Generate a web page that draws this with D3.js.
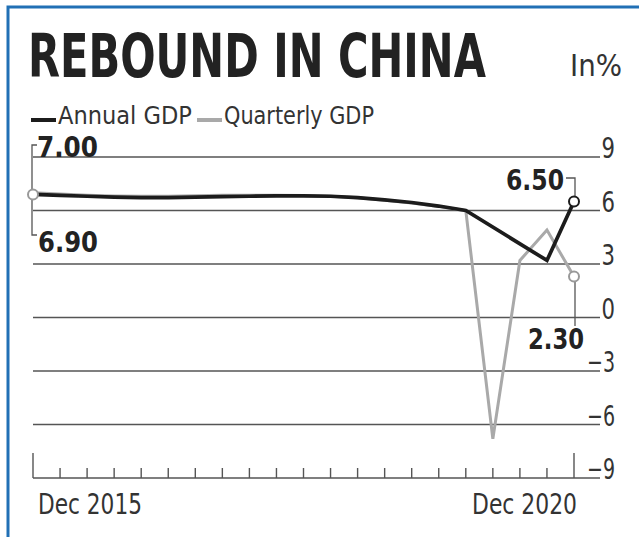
<!DOCTYPE html>
<html>
<head>
<meta charset="utf-8">
<script src="https://cdn.jsdelivr.net/npm/d3@7/dist/d3.min.js"></script>
<style>
body { margin: 0; background: #fff; }
text { font-family: "DejaVu Sans Condensed", "DejaVu Sans", "Liberation Sans Narrow", sans-serif; }
</style>
</head>
<body>
<script>
var quarters = ["Dec 2015", "Mar 2016", "Jun 2016", "Sep 2016", "Dec 2016",
	"Mar 2017", "Jun 2017", "Sep 2017", "Dec 2017", "Mar 2018", "Jun 2018",
	"Sep 2018", "Dec 2018", "Mar 2019", "Jun 2019", "Sep 2019", "Dec 2019",
	"Mar 2020", "Jun 2020", "Sep 2020", "Dec 2020"];

// annual line is drawn straight from Dec 2019 to Sep 2020
var annualQuarters = quarters.filter(function(q) { return q !== "Mar 2020" && q !== "Jun 2020"; });
var annualGDP = [6.9, 6.85, 6.8, 6.75, 6.72, 6.72, 6.75, 6.78, 6.8, 6.82, 6.82,
	6.8, 6.72, 6.6, 6.45, 6.25, 6.0, 3.2, 6.5];
var quarterlyGDP = [7.0, 6.92, 6.86, 6.82, 6.8, 6.8, 6.83, 6.85, 6.86, 6.86, 6.84,
	6.8, 6.72, 6.58, 6.42, 6.22, 6.0, -6.8, 3.2, 4.9, 2.3];

var yTicks = [9, 6, 3, 0, -3, -6, -9];
var xLabels = ["Dec 2015", "Dec 2020"];
var seriesNames = ["Annual GDP", "Quarterly GDP"];

var width = 639, height = 537;
var black = "#1c1c1c", grey = "#a9a9a9", ink = "#333";

var svg = d3.select("body").append("svg").attr("width", width).attr("height", height);

var x = d3.scalePoint().domain(quarters).range([33, 574]);
var y = d3.scaleLinear().domain([-9, 9]).range([478, 157]);

// blue frame (top and left only)
svg.append("path").attr("d", "M8,537V7H639")
	.attr("fill", "none").attr("stroke", "#2170b5").attr("stroke-width", 3);

// squeeze a text horizontally so it is w wide, anchored at (x0, y0)
function fit(sel, x0, y0, w) {
	var len = sel.node().getComputedTextLength();
	return sel.attr("x", 0).attr("y", 0)
		.attr("transform", "translate(" + x0 + "," + y0 + ")scale(" + (w / len) + ",1)");
}

fit(svg.append("text").attr("font-size", 60)
	.attr("font-weight", "bold").attr("fill", "#222").text("REBOUND IN CHINA"), 28, 77, 458);
fit(svg.append("text").attr("font-size", 31)
	.attr("fill", ink).text("In%"), 570, 76, 52);

// legend
var leg = svg.append("g");
leg.append("line").attr("x1", 31).attr("x2", 56).attr("y1", 120).attr("y2", 120)
	.attr("stroke", black).attr("stroke-width", 4);
fit(leg.append("text").attr("font-size", 24)
	.attr("fill", ink).text(seriesNames[0]), 58, 124, 134);
leg.append("line").attr("x1", 197).attr("x2", 222).attr("y1", 120).attr("y2", 120)
	.attr("stroke", grey).attr("stroke-width", 4);
fit(leg.append("text").attr("font-size", 24)
	.attr("fill", ink).text(seriesNames[1]), 224, 124, 150);

// grid + y labels
var grid = svg.append("g");
grid.selectAll("line").data(yTicks).enter().append("line")
	.attr("x1", 33).attr("x2", 600)
	.attr("y1", function(d) { return y(d); }).attr("y2", function(d) { return y(d); })
	.attr("stroke", "#555").attr("stroke-width", 1.4);
grid.selectAll("text").data(yTicks).enter().append("text")
	.attr("text-anchor", "end").attr("font-size", 29).attr("fill", ink)
	.text(function(d) { return d < 0 ? "\u2212" + (-d) : d; })
	.each(function(d) {
		fit(d3.select(this), 615, y(d) + 1, d < 0 ? 28 : 13.5);
	});

// quarter ticks
svg.append("g").selectAll("line").data(quarters).enter().append("line")
	.attr("x1", function(d) { return x(d); }).attr("x2", function(d) { return x(d); })
	.attr("y1", y(-9))
	.attr("y2", function(d) { return xLabels.indexOf(d) >= 0 ? y(-9) - 25 : y(-9) - 10; })
	.attr("stroke", "#555").attr("stroke-width", 1.4);

fit(svg.append("text").attr("font-size", 29)
	.attr("fill", ink).text(xLabels[0]), x(xLabels[0]) + 5, 514, 104);
fit(svg.append("text").attr("font-size", 29)
	.attr("text-anchor", "end").attr("fill", ink).text(xLabels[1]), x(xLabels[1]) + 3, 514, 105);

// lines
var line = d3.line().x(function(d) { return x(d[0]); }).y(function(d) { return y(d[1]); });
var qData = d3.zip(quarters, quarterlyGDP);
var aData = d3.zip(annualQuarters, annualGDP);

svg.append("path").datum(qData).attr("d", line).attr("fill", "none")
	.attr("stroke", grey).attr("stroke-width", 3).attr("stroke-linejoin", "miter");
svg.append("path").datum(aData).attr("d", line).attr("fill", "none")
	.attr("stroke", black).attr("stroke-width", 3.7).attr("stroke-linejoin", "miter");

// callouts
var first = quarters[0], last = quarters[quarters.length - 1];
var bold = svg.append("g").attr("font-weight", "bold").attr("font-size", 29).attr("fill", "#222");
var brk = svg.append("g").attr("fill", "none").attr("stroke", "#555").attr("stroke-width", 1.3);

brk.append("path").attr("d", "M" + (x(first) - 1) + "," + y(annualGDP[0]) + "V145H37");
fit(bold.append("text").text(quarterlyGDP[0].toFixed(2)), 37, 157, 61);
brk.append("path").attr("d", "M" + (x(first) - 1) + "," + y(annualGDP[0]) + "V235H37");
fit(bold.append("text").text(annualGDP[0].toFixed(2)), 38, 252, 60);

var aLast = annualGDP[annualGDP.length - 1], qLast = quarterlyGDP[quarterlyGDP.length - 1];
brk.append("path").attr("d", "M566,178H" + (x(last) + 1) + "V" + y(aLast));
fit(bold.append("text").attr("text-anchor", "end").text(aLast.toFixed(2)), 564, 190, 58);
brk.append("path").attr("d", "M" + (x(last) + 1) + "," + y(qLast) + "V326");
fit(bold.append("text").text(qLast.toFixed(2)), 528, 349, 56);

// end markers
var dots = [[first, annualGDP[0], grey], [last, aLast, black], [last, qLast, grey]];
svg.append("g").selectAll("circle").data(dots).enter().append("circle")
	.attr("cx", function(d) { return x(d[0]); }).attr("cy", function(d) { return y(d[1]); })
	.attr("r", 5).attr("fill", "#fff")
	.attr("stroke", function(d) { return d[2] === black ? black : "#999"; })
	.attr("stroke-width", 2);
</script>
</body>
</html>
